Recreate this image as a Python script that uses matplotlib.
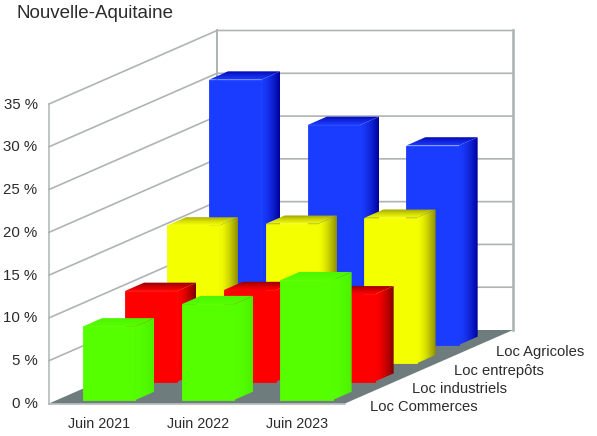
import numpy as np
import matplotlib
matplotlib.use("Agg")
import matplotlib.pyplot as plt
from matplotlib.patches import Polygon
from matplotlib.colors import to_rgb

plt.rcParams["font.family"] = ["Liberation Sans", "DejaVu Sans"]

# Data (back row first)
periods = ["Juin 2021", "Juin 2022", "Juin 2023"]
agricoles = [31.0, 25.7, 23.3]
entrepots = [16.1, 16.3, 17.0]
industriels = [10.6, 10.7, 10.2]
commerces = [8.6, 11.2, 14.0]
series_names = ["Loc Commerces", "Loc industriels", "Loc entrepôts", "Loc Agricoles"]
y_ticks = [0, 5, 10, 15, 20, 25, 30, 35]

# oblique projection of the chart box, in pixels
X0, Y0 = 49, 403.5
BOX_W = 296
DX, DY = 168, -73.5
PX_PER_PCT = 299.5 / 35

GRID = "#aeb4b4"
TEXT = "#2b2b2b"


def proj(cat, row, val):
    """cat in category units, row in series units, val in percent"""
    d = row / 4
    return (X0 + cat * BOX_W / 3 + d * DX, Y0 + d * DY - val * PX_PER_PCT)


def gradient(ax, poly, c1, c2, z, vertical=False, power=1.0):
    xs = [p[0] for p in poly]
    ys = [p[1] for p in poly]
    c1, c2 = np.array(to_rgb(c1)), np.array(to_rgb(c2))
    t = np.linspace(0, 1, 64) ** power
    t = t[:, None, None] if vertical else t[None, :, None]
    img = c1 + (c2 - c1) * t
    im = ax.imshow(img, extent=(min(xs), max(xs), max(ys), min(ys)), aspect="auto",
                   origin="upper", interpolation="bilinear", zorder=z)
    im.set_clip_path(Polygon(poly, transform=ax.transData))


def bar(ax, cat, row, val, st, z):
    c0, c1 = cat + 0.265, cat + 0.795
    r0, r1 = row + 0.19, row + 0.64
    fl = proj(c0, r0, 0)
    fr = proj(c1, r0, 0)
    tl = proj(c0, r0, val)
    tr = proj(c1, r0, val)
    br = proj(c1, r1, 0)
    btr = proj(c1, r1, val)
    btl = proj(c0, r1, val)
    gradient(ax, [fr, br, btr, tr], st["face"], st["side"], z, power=1.6)
    # top runs from the back edge (dark) down to the front edge
    gradient(ax, [tl, tr, btr, btl], st["top"], st["face"], z + 0.1, vertical=True, power=0.7)
    ax.add_patch(Polygon([fl, fr, tr, tl], fc=st["face"], ec=st["face"], lw=0.6, zorder=z + 0.2))


fig = plt.figure(figsize=(5.97, 4.36), dpi=100)
ax = fig.add_axes([0, 0, 1, 1])

# walls + grid
floor = [proj(0, 0, 0), proj(3, 0, 0), proj(3, 4, 0), proj(0, 4, 0)]
ax.add_patch(Polygon(floor, fc="#6f7c7e", ec="none", zorder=1))
for v in y_ticks[1:]:
    a, b, c = proj(0, 0, v), proj(0, 4, v), proj(3, 4, v)
    ax.plot([a[0], b[0], c[0]], [a[1], b[1], c[1]], color=GRID, lw=1.2, zorder=2)
for cat, row, lw in [(0, 0, 1.1), (0, 4, 1.4), (3, 4, 1.9)]:
    a, b = proj(cat, row, 0), proj(cat, row, 35)
    ax.plot([a[0], b[0]], [a[1], b[1]], color=GRID, lw=lw, zorder=2)
a, b = proj(0, 0, 0), proj(3, 0, 0)
ax.plot([a[0], b[0]], [a[1] + 0.5, b[1] + 0.5], color=GRID, lw=1.1, zorder=2)

styles = [
    dict(face="#55ff00", side="#4cf000", top="#4cf000"),
    dict(face="#ff0000", side="#7c0000", top="#7c0000"),
    dict(face="#f4ff00", side="#8c8c00", top="#949600"),
    dict(face="#1a3cff", side="#00009c", top="#0000a8"),
]
all_series = [commerces, industriels, entrepots, agricoles]

z = 3
for row in [3, 2, 1, 0]:
    for cat, val in enumerate(all_series[row]):
        bar(ax, cat, row, val, styles[row], z)
        z += 1

# text
for v in y_ticks:
    ax.text(37.5, Y0 + 0.5 - v * PX_PER_PCT, f"{v} %", ha="right", va="center", fontsize=10.8, color=TEXT)
for cat, name in enumerate(periods):
    x = X0 + (cat + 0.5) * BOX_W / 3
    ax.text(x + 1, 424, name, ha="center", va="center", fontsize=10.3, color=TEXT)
for row, name in enumerate(series_names):
    x, y = proj(3, row + 0.5, 0)
    ax.text(x + 4, y + 13, name, ha="left", va="center", fontsize=10.6, color=TEXT)
ax.text(16, 13, "Nouvelle-Aquitaine", ha="left", va="center", fontsize=13.5, color=TEXT)

ax.set_xlim(0, 597)
ax.set_ylim(436, 0)
ax.axis("off")
fig.savefig("out.png", dpi=100)
